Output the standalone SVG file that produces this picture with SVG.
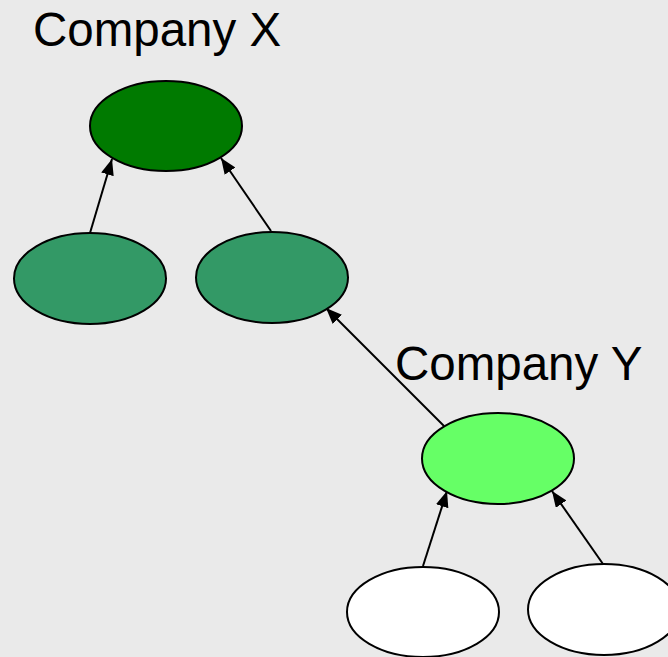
<svg xmlns="http://www.w3.org/2000/svg" width="668" height="657" viewBox="0 0 668 657">
  <style>
    .node { stroke: #000; stroke-width: 2; }
    .edge { stroke: #000; stroke-width: 2; fill: none; marker-end: url(#arrow); }
    .label { font-family: "Liberation Sans", Arial, sans-serif; font-size: 47.5px; fill: #000; }
  </style>
  <defs>
    <marker id="arrow" markerUnits="userSpaceOnUse" markerWidth="18" markerHeight="14" refX="16" refY="6.5" orient="auto">
      <path d="M0,0 L16,6.5 L0,13 Z" fill="#000"/>
    </marker>
  </defs>
  <rect width="668" height="657" fill="#eaeaea"/>

  <g id="connectors">
    <line class="edge" x1="90" y1="233" x2="112" y2="159"/>
    <line class="edge" x1="271" y1="231" x2="221" y2="158"/>
    <line class="edge" x1="444" y1="426" x2="326" y2="308"/>
    <line class="edge" x1="423" y1="566" x2="447" y2="491"/>
    <line class="edge" x1="603" y1="564" x2="552" y2="491"/>
  </g>

  <g id="label-x"><text class="label" x="33" y="46">Company X</text></g>
  <g id="label-y"><text class="label" x="395" y="380">Company Y</text></g>

  <g id="company-x"><ellipse class="node" cx="166" cy="126" rx="76" ry="45" fill="#007a00"/></g>
  <g id="x-child-left"><ellipse class="node" cx="90" cy="278.5" rx="76" ry="45.5" fill="#339966"/></g>
  <g id="x-child-right"><ellipse class="node" cx="272" cy="277.5" rx="76" ry="45.5" fill="#339966"/></g>
  <g id="company-y"><ellipse class="node" cx="498" cy="458.5" rx="76" ry="45.5" fill="#66ff66"/></g>
  <g id="y-child-left"><ellipse class="node" cx="423" cy="612" rx="76" ry="45" fill="#ffffff"/></g>
  <g id="y-child-right"><ellipse class="node" cx="604" cy="609.5" rx="76" ry="45.5" fill="#ffffff"/></g>
</svg>
